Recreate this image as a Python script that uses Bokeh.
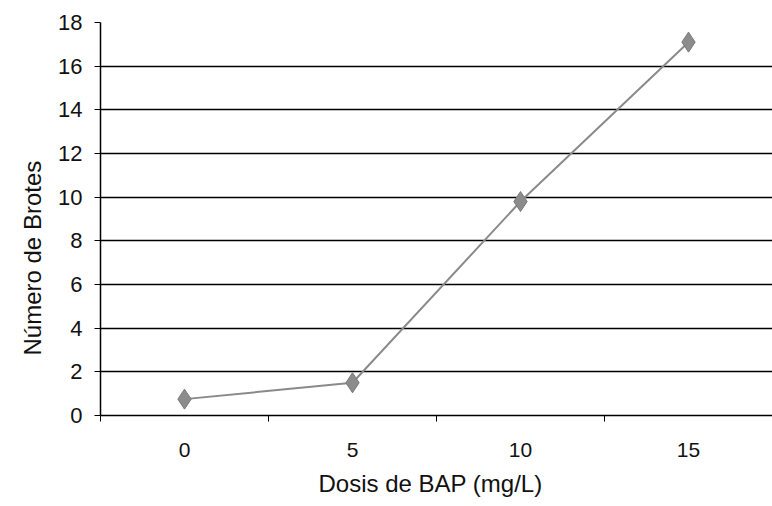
from bokeh.plotting import figure
from bokeh.models import ColumnDataSource, Range1d, FixedTicker, Title
from bokeh.embed import file_html
from bokeh.resources import INLINE

# Data
doses = ["0", "5", "10", "15"]
brotes = [0.75, 1.5, 9.8, 17.1]
y_ticks = [0, 2, 4, 6, 8, 10, 12, 14, 16, 18]
x_title = "Dosis de BAP (mg/L)"
y_title = "Número de Brotes"

xpos = list(range(len(doses)))
src = ColumnDataSource(dict(x=xpos, y=brotes, label=doses))

p = figure(width=772, height=506, output_backend="svg", toolbar_location=None,
           x_range=Range1d(-0.5, len(doses) - 0.5), y_range=Range1d(0, 18),
           min_border_left=100, min_border_right=0, min_border_top=22, min_border_bottom=91,
           background_fill_color="white", border_fill_color="white")
p.outline_line_color = None

p.line("x", "y", source=src, line_color="#8a8a8a", line_width=2)
p.scatter("x", "y", source=src, marker="diamond", size=20, fill_color="#8c8c8c",
          line_color="#7a7a7a", line_width=1)

TXT = "#111111"
# x axis
p.xaxis.ticker = FixedTicker(ticks=xpos, minor_ticks=[i - 0.5 for i in range(len(doses) + 1)])
p.xaxis.major_label_overrides = {i: d for i, d in enumerate(doses)}
p.xaxis.major_tick_out = 0
p.xaxis.major_tick_in = 0
p.xaxis.minor_tick_out = 6
p.xaxis.minor_tick_in = 0
p.xaxis.minor_tick_line_color = "black"
p.xaxis.axis_line_color = "black"
p.xaxis.axis_line_width = 1.5
p.xaxis.major_label_standoff = 21
p.xaxis.major_label_text_font = "Liberation Sans"
p.xaxis.major_label_text_font_size = "21px"
p.xaxis.major_label_text_color = TXT

# y axis
p.yaxis.ticker = FixedTicker(ticks=y_ticks, minor_ticks=[])
p.yaxis.major_tick_out = 6
p.yaxis.major_tick_in = 0
p.yaxis.major_tick_line_color = "black"
p.yaxis.axis_line_color = "black"
p.yaxis.axis_line_width = 1.5
p.yaxis.major_label_standoff = 12
p.yaxis.major_label_text_font = "Liberation Sans"
p.yaxis.major_label_text_font_size = "22px"
p.yaxis.major_label_text_color = TXT

# axis titles (off-centre like the reference)
p.add_layout(Title(text=x_title, align="left", offset=218, text_font="Liberation Sans",
                   text_font_style="normal", text_font_size="24px", text_color=TXT,
                   standoff=17), "below")
p.add_layout(Title(text=y_title, align="left", offset=60, text_font="Liberation Sans",
                   text_font_style="normal", text_font_size="24px", text_color=TXT,
                   standoff=20), "left")

# grid
p.xgrid.grid_line_color = None
p.ygrid.grid_line_color = "black"
p.ygrid.grid_line_width = 1.5
p.ygrid.ticker = FixedTicker(ticks=y_ticks)

open("out.html", "w").write(file_html(p, INLINE))
